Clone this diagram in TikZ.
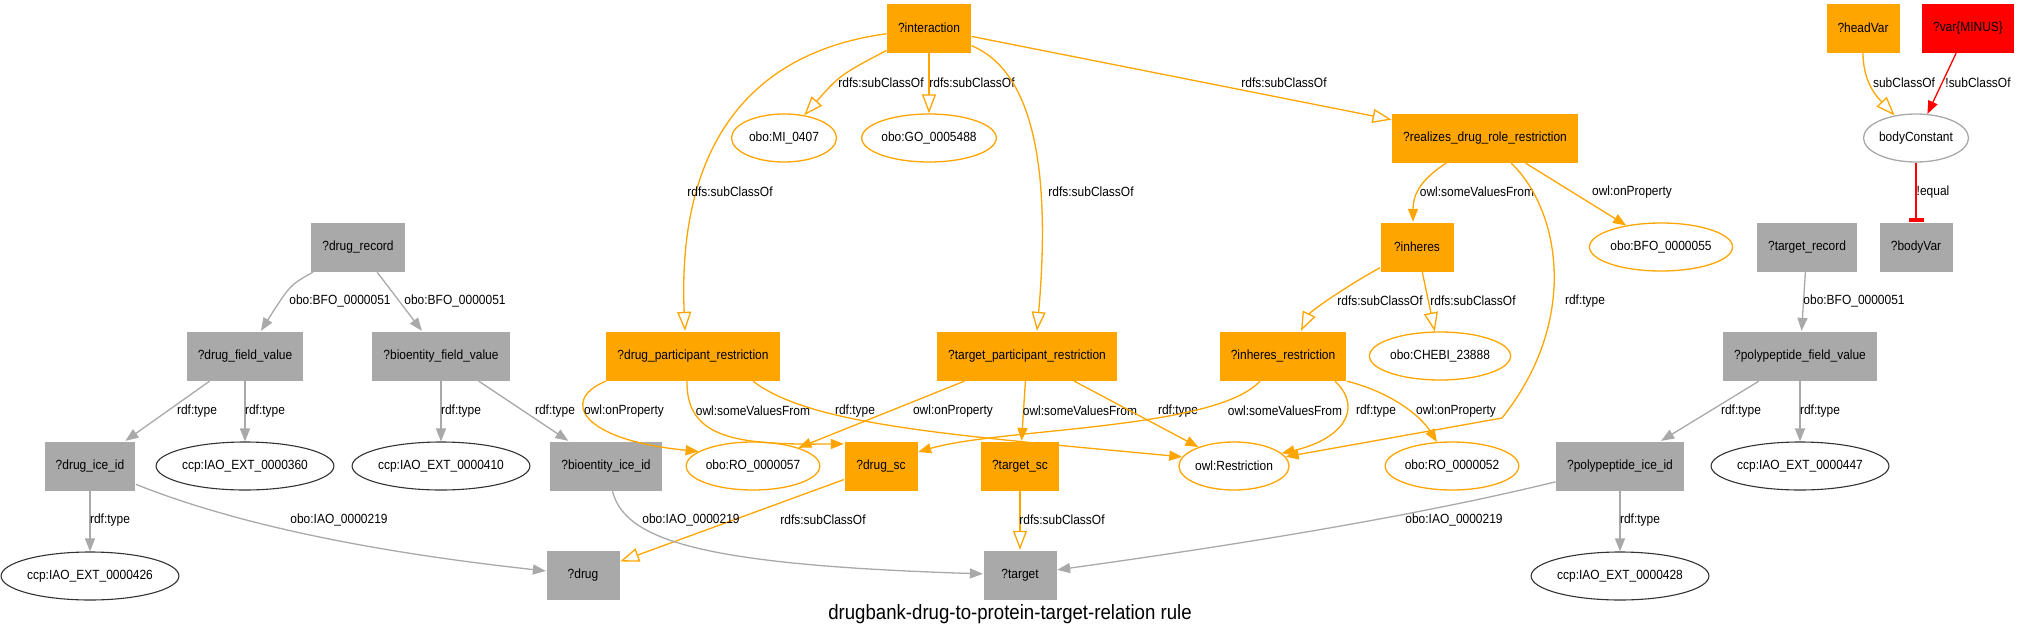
\documentclass[tikz,border=0pt]{standalone}
\usepackage{fontspec}
\setmainfont{Liberation Sans}[FakeStretch=0.9]
\usepackage{xcolor}
\usetikzlibrary{arrows.meta, shapes.geometric}
\definecolor{rdforange}{HTML}{FFA500}
\definecolor{rdfgray}{HTML}{A9A9A9}
\definecolor{rdfred}{HTML}{FF0000}
\definecolor{rdfdark}{HTML}{333333}

\begin{document}
\begin{tikzpicture}[x=1pt, y=-1pt, ->, >={Triangle[length=13pt, width=10pt]}, line width=1.3pt,
    font=\fontsize{13.3}{16}\selectfont]
    \tikzstyle{box} = [rectangle, minimum width=73pt, minimum height=49pt, inner xsep=11pt]
    \tikzstyle{graybox} = [box, fill=rdfgray]
    \tikzstyle{orangebox} = [box, fill=rdforange]
    \tikzstyle{redbox} = [box, fill=rdfred]
    \tikzstyle{term} = [ellipse, draw, fill=white, inner xsep=0pt, inner ysep=0pt, minimum width=105pt, minimum height=48pt]
    \tikzstyle{oterm} = [term, draw=rdforange]
    \tikzstyle{kterm} = [term, draw=rdfdark, line width=1.1pt]
    \tikzstyle{gterm} = [term, draw=rdfgray]
    \tikzstyle{lbl} = [inner sep=0pt, text=black]
    \tikzstyle{grayedge} = [draw=rdfgray]
    \tikzstyle{oredge} = [draw=rdforange]
    \tikzstyle{subedge} = [draw=rdforange, -{Triangle[open, length=19pt, width=14pt]}]
    \useasboundingbox (0,0) rectangle (2020,637);

    % top rows
    \node [orangebox] (interaction) at (929,28) {?interaction};
    \node [oterm] (miterm) at (784,138) {obo:MI\_0407};
    \node [oterm] (goterm) at (929,138) {obo:GO\_0005488};
    \node [orangebox] (realizes) at (1485,138) {?realizes\_drug\_role\_restriction};
    \node [orangebox] (headvar) at (1863,28) {?headVar};
    \node [redbox] (varminus) at (1968,28) {?var\{MINUS\}};
    \node [gterm] (bodyconst) at (1916,138) {bodyConstant};
    \node [graybox] (drugrec) at (358,247) {?drug\_record};
    \node [orangebox] (inheres) at (1417,247) {?inheres};
    \node [oterm] (bfoterm) at (1661,247) {obo:BFO\_0000055};
    \node [graybox] (targetrec) at (1807,247) {?target\_record};
    \node [graybox] (bodyvar) at (1916,247) {?bodyVar};

    % middle row
    \node [graybox] (drugfield) at (245,356) {?drug\_field\_value};
    \node [graybox] (biofield) at (441,356) {?bioentity\_field\_value};
    \node [orangebox] (drugpart) at (693,356) {?drug\_participant\_restriction};
    \node [orangebox] (targetpart) at (1027,356) {?target\_participant\_restriction};
    \node [orangebox] (inheresrestr) at (1283,356) {?inheres\_restriction};
    \node [oterm] (chebi) at (1440,356) {obo:CHEBI\_23888};
    \node [graybox] (polyfield) at (1800,356) {?polypeptide\_field\_value};

    % lower rows
    \node [graybox] (drugice) at (90,466) {?drug\_ice\_id};
    \node [kterm] (extthreesixty) at (245,466) {ccp:IAO\_EXT\_0000360};
    \node [kterm] (extfourten) at (441,466) {ccp:IAO\_EXT\_0000410};
    \node [graybox] (bioice) at (606,466) {?bioentity\_ice\_id};
    \node [oterm] (roparticipant) at (753,466) {obo:RO\_0000057};
    \node [orangebox] (drugsc) at (881,466) {?drug\_sc};
    \node [orangebox] (targetsc) at (1020,466) {?target\_sc};
    \node [oterm] (restriction) at (1234,466) {owl:Restriction};
    \node [oterm] (roinheres) at (1452,466) {obo:RO\_0000052};
    \node [graybox] (polyice) at (1620,466) {?polypeptide\_ice\_id};
    \node [kterm] (extpoly) at (1800,466) {ccp:IAO\_EXT\_0000447};
    \node [kterm] (extdrug) at (90,576) {ccp:IAO\_EXT\_0000426};
    \node [graybox] (drug) at (583,575) {?drug};
    \node [graybox] (target) at (1020,575) {?target};
    \node [kterm] (exttarget) at (1620,576) {ccp:IAO\_EXT\_0000428};
    \node [font=\fontsize{20.7}{24}\selectfont] (title) at (1010,614) {drugbank-drug-to-protein-target-relation rule};

    % orange edges
    \draw[subedge] (interaction) .. controls (840,75) .. (miterm) node[lbl] (l1) at (881,83) {rdfs:subClassOf};
    \draw[subedge] (interaction) -- (goterm) node[lbl] (l2) at (972,83) {rdfs:subClassOf};
    \draw[subedge] (interaction) -- (realizes) node[lbl] (l3) at (1284,83) {rdfs:subClassOf};
    \draw[subedge] (interaction) .. controls (730,55) and (678,170) .. ([xshift=-8pt]drugpart.north) node[lbl] (l4) at (730,192) {rdfs:subClassOf};
    \draw[subedge] (interaction) .. controls (1030,70) and (1052,160) .. ([xshift=10pt]targetpart.north) node[lbl] (l5) at (1091,192) {rdfs:subClassOf};
    \draw[oredge] (realizes) .. controls (1420,180) and (1413,195) .. ([xshift=-4pt]inheres.north) node[lbl] (l6) at (1477,192) {owl:someValuesFrom};
    \draw[oredge] (realizes) -- (bfoterm) node[lbl] (l7) at (1632,192) {owl:onProperty};
    \draw[oredge] (realizes) .. controls (1560,210) and (1580,320) .. (1502,418) -- (restriction) node[lbl] (l8) at (1585,301) {rdf:type};
    \draw[subedge] (inheres) .. controls (1340,290) and (1310,312) .. ([xshift=18pt]inheresrestr.north) node[lbl] (l9) at (1380,301) {rdfs:subClassOf};
    \draw[subedge] (inheres) -- (chebi) node[lbl] (l10) at (1473,301) {rdfs:subClassOf};
    \draw[oredge] (drugpart.south west) .. controls (560,400) and (580,440) .. (roparticipant.165) node[lbl] (l11) at (624,411) {owl:onProperty};
    \draw[oredge] ([xshift=-6pt]drugpart.south) .. controls (686,440) and (740,445) .. ([yshift=-3pt]drugsc.north west) node[lbl] (l12) at (753,411) {owl:someValuesFrom};
    \draw[oredge] ([xshift=60pt]drugpart.south) .. controls (810,425) and (950,435) .. (restriction.170) node[lbl] (l13) at (855,411) {rdf:type};
    \draw[oredge] (targetpart) -- (roparticipant) node[lbl] (l14) at (953,411) {owl:onProperty};
    \draw[oredge] (targetpart) -- (targetsc) node[lbl] (l15) at (1080,411) {owl:someValuesFrom};
    \draw[oredge] (targetpart) -- (restriction) node[lbl] (l16) at (1178,411) {rdf:type};
    \draw[oredge] ([xshift=-23pt]inheresrestr.south) .. controls (1215,430) and (1000,428) .. ([yshift=14pt]drugsc.east) node[lbl] (l17) at (1285,411) {owl:someValuesFrom};
    \draw[oredge] ([xshift=52pt]inheresrestr.south) .. controls (1365,410) and (1340,440) .. (restriction.15) node[lbl] (l18) at (1376,411) {rdf:type};
    \draw[oredge] (inheresrestr.south east) .. controls (1390,392) and (1420,415) .. (roinheres) node[lbl] (l19) at (1456,411) {owl:onProperty};
    \draw[subedge] (drugsc) -- (drug) node[lbl] (l20) at (823,520) {rdfs:subClassOf};
    \draw[subedge] (targetsc) -- (target) node[lbl] (l21) at (1062,520) {rdfs:subClassOf};
    \draw[subedge] (headvar) .. controls (1863,85) and (1880,100) .. (bodyconst) node[lbl] (l22) at (1904,83) {subClassOf};

    % red edges
    \draw[draw=rdfred, -{Triangle[length=13pt, width=10pt]}, fill=rdfred] (varminus) -- (bodyconst) node[lbl] (l23) at (1978,83) {!subClassOf};
    \draw[draw=rdfred, -{Rectangle[length=4pt, width=15pt]}, fill=rdfred] (bodyconst) -- (bodyvar) node[lbl] (l24) at (1933,192) {!equal};

    % gray edges
    \draw[grayedge] (drugrec) .. controls (290,285) .. (drugfield) node[lbl] (l25) at (340,301) {obo:BFO\_0000051};
    \draw[grayedge] (drugrec) -- (biofield) node[lbl] (l26) at (455,301) {obo:BFO\_0000051};
    \draw[grayedge] (drugfield) -- (drugice) node[lbl] (l27) at (197,411) {rdf:type};
    \draw[grayedge] (drugfield) -- (extthreesixty) node[lbl] (l28) at (265,411) {rdf:type};
    \draw[grayedge] (biofield) -- (extfourten) node[lbl] (l29) at (461,411) {rdf:type};
    \draw[grayedge] (biofield) -- (bioice) node[lbl] (l30) at (555,411) {rdf:type};
    \draw[grayedge] (drugice) -- (extdrug) node[lbl] (l31) at (110,520) {rdf:type};
    \draw[grayedge] (drugice) .. controls (250,530) and (400,555) .. (drug) node[lbl] (l32) at (339,520) {obo:IAO\_0000219};
    \draw[grayedge] (bioice) .. controls (625,540) and (700,565) .. (target) node[lbl] (l33) at (691,520) {obo:IAO\_0000219};
    \draw[grayedge] (targetrec) -- (polyfield) node[lbl] (l34) at (1854,301) {obo:BFO\_0000051};
    \draw[grayedge] (polyfield) -- (polyice) node[lbl] (l35) at (1741,411) {rdf:type};
    \draw[grayedge] (polyfield) -- (extpoly) node[lbl] (l36) at (1820,411) {rdf:type};
    \draw[grayedge] (polyice) -- (exttarget) node[lbl] (l37) at (1640,520) {rdf:type};
    \draw[grayedge] (polyice) .. controls (1400,520) and (1200,550) .. (target) node[lbl] (l38) at (1454,520) {obo:IAO\_0000219};
\end{tikzpicture}
\end{document}
